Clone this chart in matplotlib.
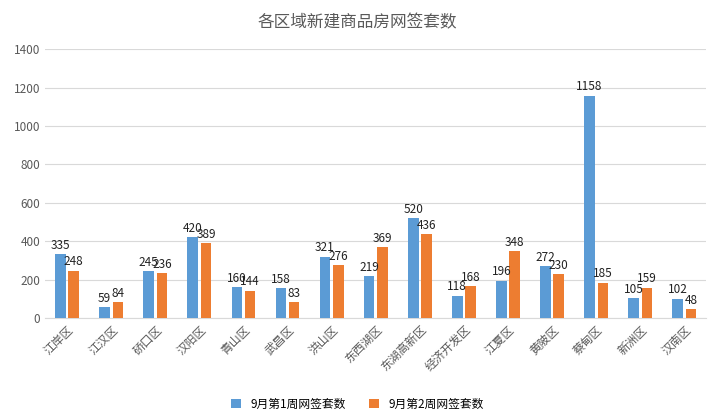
import numpy as np
import matplotlib.pyplot as plt

plt.rcParams['font.family'] = ['Noto Sans CJK SC', 'DejaVu Sans']

districts = ['江岸区', '江汉区', '硚口区', '汉阳区', '青山区', '武昌区', '洪山区', '东西湖区',
             '东湖高新区', '经济开发区', '江夏区', '黄陂区', '蔡甸区', '新洲区', '汉南区']
week1 = [335, 59, 245, 420, 160, 158, 321, 219, 520, 118, 196, 272, 1158, 105, 102]
week2 = [248, 84, 236, 389, 144, 83, 276, 369, 436, 168, 348, 230, 185, 159, 48]
names = ['9月第1周网签套数', '9月第2周网签套数']

fig = plt.figure(figsize=(7.15, 4.17), dpi=100)
ax = fig.add_axes([0.063, 0.237, 0.925, 0.645])
x = np.arange(len(districts))
w = 0.24
c1, c2 = '#5b9bd5', '#ed7d31'
b1 = ax.bar(x - w / 2 - 0.03, week1, w, color=c1, label=names[0], zorder=3)
b2 = ax.bar(x + w / 2 + 0.03, week2, w, color=c2, label=names[1], zorder=3)
for bars in (b1, b2):
    for r in bars:
        ax.text(r.get_x() + r.get_width() / 2, r.get_height() + 12, str(int(r.get_height())),
                ha='center', va='bottom', fontsize=8.5, color='#222222')

ax.set_ylim(0, 1400)
ax.set_yticks(range(0, 1401, 200))
ax.set_xlim(-0.5, len(districts) - 0.5)
ax.set_xticks(x)
ax.set_xticklabels(districts, rotation=45, ha='right', rotation_mode='anchor', fontsize=8.5, color='#595959')
ax.tick_params(axis='y', labelsize=8.5, colors='#595959', length=0)
ax.tick_params(axis='x', length=0)
ax.grid(axis='y', color='#d9d9d9', linewidth=0.8, zorder=0)
for s in ['top', 'right', 'left']:
    ax.spines[s].set_visible(False)
ax.spines['bottom'].set_color('#d9d9d9')
fig.suptitle('各区域新建商品房网签套数', y=0.965, fontsize=12, color='#595959')
fig.legend(loc='lower center', ncol=2, frameon=False, fontsize=8.5, bbox_to_anchor=(0.5, -0.01),
           handlelength=0.8, handleheight=0.8)
fig.savefig('out.png')
